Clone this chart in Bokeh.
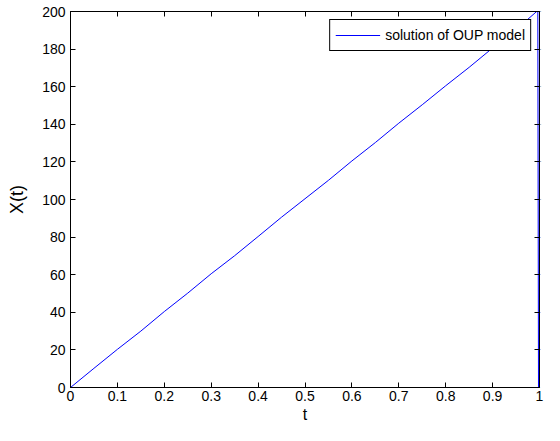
from bokeh.plotting import figure
from bokeh.models import LinearAxis, FixedTicker, Range1d, Legend, LegendItem
from bokeh.embed import file_html
from bokeh.resources import INLINE

# data
t_vals = [0, 0.05, 0.1, 0.15, 0.2, 0.25, 0.3, 0.35, 0.4, 0.45, 0.5, 0.55, 0.6,
          0.65, 0.7, 0.75, 0.8, 0.85, 0.9, 0.95, 0.994, 0.996, 0.998]
x_vals = [0, 10.2, 20.3, 30.0, 40.4, 50.2, 60.5, 70.1, 80.3, 90.6, 100.4, 110.2,
          120.5, 130.3, 140.6, 150.4, 160.5, 170.3, 180.6, 190.4, 200, 260, -20]
x_ticks = [0, 0.1, 0.2, 0.3, 0.4, 0.5, 0.6, 0.7, 0.8, 0.9, 1]
x_tick_labels = ["0", "0.1", "0.2", "0.3", "0.4", "0.5", "0.6", "0.7", "0.8", "0.9", "1"]
y_ticks = [0, 20, 40, 60, 80, 100, 120, 140, 160, 180, 200]
series_name = "solution of OUP model"

FONT = "Liberation Sans"

p = figure(width=544, height=425, output_backend="svg", toolbar_location=None,
           x_range=Range1d(0, 1), y_range=Range1d(0, 200),
           min_border_left=70, min_border_right=4, min_border_top=11, min_border_bottom=34)
p.background_fill_color = "white"
p.border_fill_color = "white"
p.outline_line_color = "black"
p.outline_line_width = 1
p.grid.visible = False

r = p.line(t_vals, x_vals, line_color="#0000ff", line_width=1)

xt = FixedTicker(ticks=x_ticks)
yt = FixedTicker(ticks=y_ticks)

def style(ax):
    ax.axis_line_color = "black"
    ax.major_tick_line_color = "black"
    ax.major_tick_in = 5
    ax.major_tick_out = 0
    ax.minor_tick_line_color = None
    ax.major_label_text_font = FONT
    ax.major_label_text_font_size = "14px"
    ax.major_label_text_color = "black"
    ax.axis_label_text_font = FONT
    ax.axis_label_text_font_style = "normal"
    ax.axis_label_text_color = "black"

xa = p.xaxis[0]
xa.ticker = xt
xa.major_label_overrides = {str(v): s for v, s in zip(x_ticks, x_tick_labels)}
xa.axis_label = "t"
style(xa)
xa.axis_label_text_font_size = "16px"
xa.axis_label_standoff = 2
xa.major_label_standoff = 3

ya = p.yaxis[0]
ya.ticker = yt
ya.axis_label = "X(t)"
style(ya)
ya.axis_label_text_font_size = "18px"
ya.axis_label_standoff = 12
ya.major_label_standoff = 5

top = LinearAxis(ticker=xt)
style(top)
top.major_label_overrides = {str(v): "" for v in x_ticks}
top.major_label_standoff = 0
top.major_label_text_font_size = "1px"
p.add_layout(top, "above")
right = LinearAxis(ticker=yt)
style(right)
right.major_label_overrides = {str(v): "" for v in y_ticks}
right.major_label_standoff = 0
right.major_label_text_font_size = "1px"
p.add_layout(right, "right")

legend = Legend(items=[LegendItem(label=series_name, renderers=[r])],
                location="top_right")
legend.label_text_font = FONT
legend.label_text_font_size = "14px"
legend.label_text_color = "black"
legend.glyph_width = 45
legend.border_line_color = "black"
legend.border_line_width = 1
legend.border_line_alpha = 1
legend.margin = 8
legend.padding = 5
legend.spacing = 0
legend.label_standoff = 5
legend.label_height = 18
legend.background_fill_alpha = 1
p.add_layout(legend, "center")

open("out.html", "w").write(file_html(p, INLINE))
